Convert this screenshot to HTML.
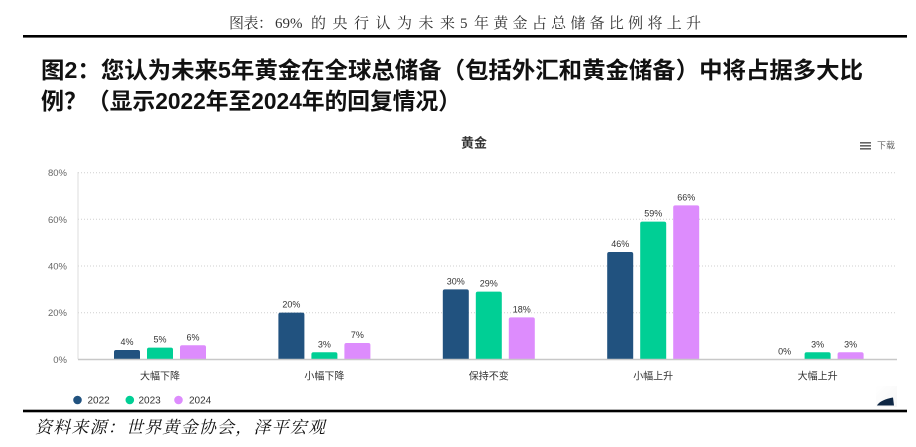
<!DOCTYPE html>
<html>
<head>
<meta charset="utf-8">
<style>
html,body{margin:0;padding:0;background:#fff;}
svg{display:block;}
.cn{font-family:"Liberation Sans","Noto Sans CJK SC",sans-serif;}
.serif{font-family:"Liberation Serif","Noto Serif CJK SC",serif;}
</style>
</head>
<body>
<svg width="916" height="447" viewBox="0 0 916 447" xmlns="http://www.w3.org/2000/svg">
  <rect width="916" height="447" fill="#fff"/>
  <!-- top caption -->
  <text class="serif" x="229" y="28" font-size="15" fill="#333" textLength="44" lengthAdjust="spacing">图表：</text>
  <text class="serif" x="275" y="28" font-size="15" fill="#333">69%</text>
  <text class="serif" x="311" y="28" font-size="15" fill="#333" textLength="144" lengthAdjust="spacing">的央行认为未来</text>
  <text class="serif" x="460" y="28" font-size="15" fill="#333">5</text>
  <text class="serif" x="474" y="28" font-size="15" fill="#333" textLength="227" lengthAdjust="spacing">年黄金占总储备比例将上升</text>
  <rect x="23" y="35" width="884" height="2.6" fill="#000"/>

  <!-- heading -->
  <text class="cn" x="41" y="78" font-size="23" font-weight="700" fill="#111" textLength="822" lengthAdjust="spacingAndGlyphs">图2：您认为未来5年黄金在全球总储备（包括外汇和黄金储备）中将占据多大比</text>
  <text class="cn" x="41" y="109" font-size="23" font-weight="700" fill="#111">例？</text>
  <text class="cn" x="87" y="109" font-size="23" font-weight="700" fill="#111" textLength="374" lengthAdjust="spacingAndGlyphs">（显示2022年至2024年的回复情况）</text>

  <!-- chart title -->
  <text class="cn" x="461" y="147.5" font-size="13" font-weight="700" fill="#333">黄金</text>
  <!-- menu icon -->
  <rect x="860" y="142" width="11" height="1.6" fill="#666"/>
  <rect x="860" y="145" width="11" height="1.6" fill="#666"/>
  <rect x="860" y="148" width="11" height="1.6" fill="#666"/>
  <text class="cn" x="877" y="148.5" font-size="9" fill="#666">下载</text>

  <!-- grid -->
  <g stroke="#cfcfcf" stroke-width="1" stroke-dasharray="1,2">
    <line x1="78" y1="172.7" x2="897" y2="172.7"/>
    <line x1="78" y1="219.3" x2="897" y2="219.3"/>
    <line x1="78" y1="266" x2="897" y2="266"/>
    <line x1="78" y1="312.7" x2="897" y2="312.7"/>
  </g>
  <line x1="78" y1="172" x2="78" y2="359.3" stroke="#ddd" stroke-width="1"/>

  <!-- y labels -->
  <g class="cn" font-size="9.5" fill="#666" text-anchor="end">
    <text x="67" y="176.2">80%</text>
    <text x="67" y="222.8">60%</text>
    <text x="67" y="269.5">40%</text>
    <text x="67" y="316.2">20%</text>
    <text x="67" y="362.8">0%</text>
  </g>

  <!-- bars -->
  <g>
    <path d="M114,359.3 V351.97 Q114,349.97 116,349.97 H138 Q140,349.97 140,351.97 V359.3 Z" fill="#21527f"/>
    <path d="M147,359.3 V349.64 Q147,347.64 149,347.64 H171 Q173,347.64 173,349.64 V359.3 Z" fill="#00cf95"/>
    <path d="M180,359.3 V347.3 Q180,345.3 182,345.3 H204 Q206,345.3 206,347.3 V359.3 Z" fill="#dd8cfd"/>
    <path d="M278.4,359.3 V314.65 Q278.4,312.65 280.4,312.65 H302.4 Q304.4,312.65 304.4,314.65 V359.3 Z" fill="#21527f"/>
    <path d="M311.4,359.3 V354.3 Q311.4,352.3 313.4,352.3 H335.4 Q337.4,352.3 337.4,354.3 V359.3 Z" fill="#00cf95"/>
    <path d="M344.4,359.3 V344.97 Q344.4,342.97 346.4,342.97 H368.4 Q370.4,342.97 370.4,344.97 V359.3 Z" fill="#dd8cfd"/>
    <path d="M442.8,359.3 V291.33 Q442.8,289.33 444.8,289.33 H466.8 Q468.8,289.33 468.8,291.33 V359.3 Z" fill="#21527f"/>
    <path d="M475.8,359.3 V293.66 Q475.8,291.66 477.8,291.66 H499.8 Q501.8,291.66 501.8,293.66 V359.3 Z" fill="#00cf95"/>
    <path d="M508.8,359.3 V319.32 Q508.8,317.32 510.8,317.32 H532.8 Q534.8,317.32 534.8,319.32 V359.3 Z" fill="#dd8cfd"/>
    <path d="M607.2,359.3 V254.0 Q607.2,252.0 609.2,252.0 H631.2 Q633.2,252.0 633.2,254.0 V359.3 Z" fill="#21527f"/>
    <path d="M640.2,359.3 V223.68 Q640.2,221.68 642.2,221.68 H664.2 Q666.2,221.68 666.2,223.68 V359.3 Z" fill="#00cf95"/>
    <path d="M673.2,359.3 V207.35 Q673.2,205.35 675.2,205.35 H697.2 Q699.2,205.35 699.2,207.35 V359.3 Z" fill="#dd8cfd"/>
    <path d="M804.6,359.3 V354.3 Q804.6,352.3 806.6,352.3 H828.6 Q830.6,352.3 830.6,354.3 V359.3 Z" fill="#00cf95"/>
    <path d="M837.6,359.3 V354.3 Q837.6,352.3 839.6,352.3 H861.6 Q863.6,352.3 863.6,354.3 V359.3 Z" fill="#dd8cfd"/>
  </g>
  <line x1="78" y1="359.5" x2="897" y2="359.5" stroke="#c8c8c8" stroke-width="1.5"/>

  <!-- value labels -->
  <g class="cn" font-size="9" fill="#333" text-anchor="middle">
    <text x="127" y="345">4%</text>
    <text x="160" y="342.6">5%</text>
    <text x="193" y="340.3">6%</text>
    <text x="291.4" y="307.6">20%</text>
    <text x="324.4" y="347.3">3%</text>
    <text x="357.4" y="338">7%</text>
    <text x="455.8" y="284.3">30%</text>
    <text x="488.8" y="286.7">29%</text>
    <text x="521.8" y="312.3">18%</text>
    <text x="620.2" y="247">46%</text>
    <text x="653.2" y="216.7">59%</text>
    <text x="686.2" y="200.4">66%</text>
    <text x="784.6" y="354.3">0%</text>
    <text x="817.6" y="347.3">3%</text>
    <text x="850.6" y="347.3">3%</text>
  </g>

  <!-- category labels -->
  <g class="cn" font-size="10" fill="#333" text-anchor="middle">
    <text x="160" y="379.5">大幅下降</text>
    <text x="324.4" y="379.5">小幅下降</text>
    <text x="488.8" y="379.5">保持不变</text>
    <text x="653.2" y="379.5">小幅上升</text>
    <text x="817.6" y="379.5">大幅上升</text>
  </g>

  <!-- legend -->
  <circle cx="77.5" cy="400" r="4.3" fill="#21527f"/>
  <text class="cn" x="87.5" y="403.6" font-size="10" fill="#333">2022</text>
  <circle cx="129.8" cy="400" r="4.3" fill="#00cf95"/>
  <text class="cn" x="138.5" y="403.6" font-size="10" fill="#333">2023</text>
  <circle cx="178.5" cy="400" r="4.3" fill="#dd8cfd"/>
  <text class="cn" x="189" y="403.6" font-size="10" fill="#333">2024</text>

  <!-- bottom-right decoration -->
  <defs>
    <linearGradient id="fade" x1="0" y1="0" x2="1" y2="1">
      <stop offset="0" stop-color="#fff"/>
      <stop offset="1" stop-color="#f6f6f6"/>
    </linearGradient>
  </defs>
  <rect x="876" y="386" width="21" height="21" fill="url(#fade)"/>
  <path d="M877,405.5 Q880,400 893,397.5 L894,405.5 Z" fill="#0f2744"/>

  <rect x="23" y="409.7" width="884" height="2.6" fill="#000"/>

  <!-- source -->
  <text class="serif" x="35" y="433" font-size="17" font-style="italic" fill="#111" textLength="290" lengthAdjust="spacing">资料来源：世界黄金协会，泽平宏观</text>
</svg>
</body>
</html>
